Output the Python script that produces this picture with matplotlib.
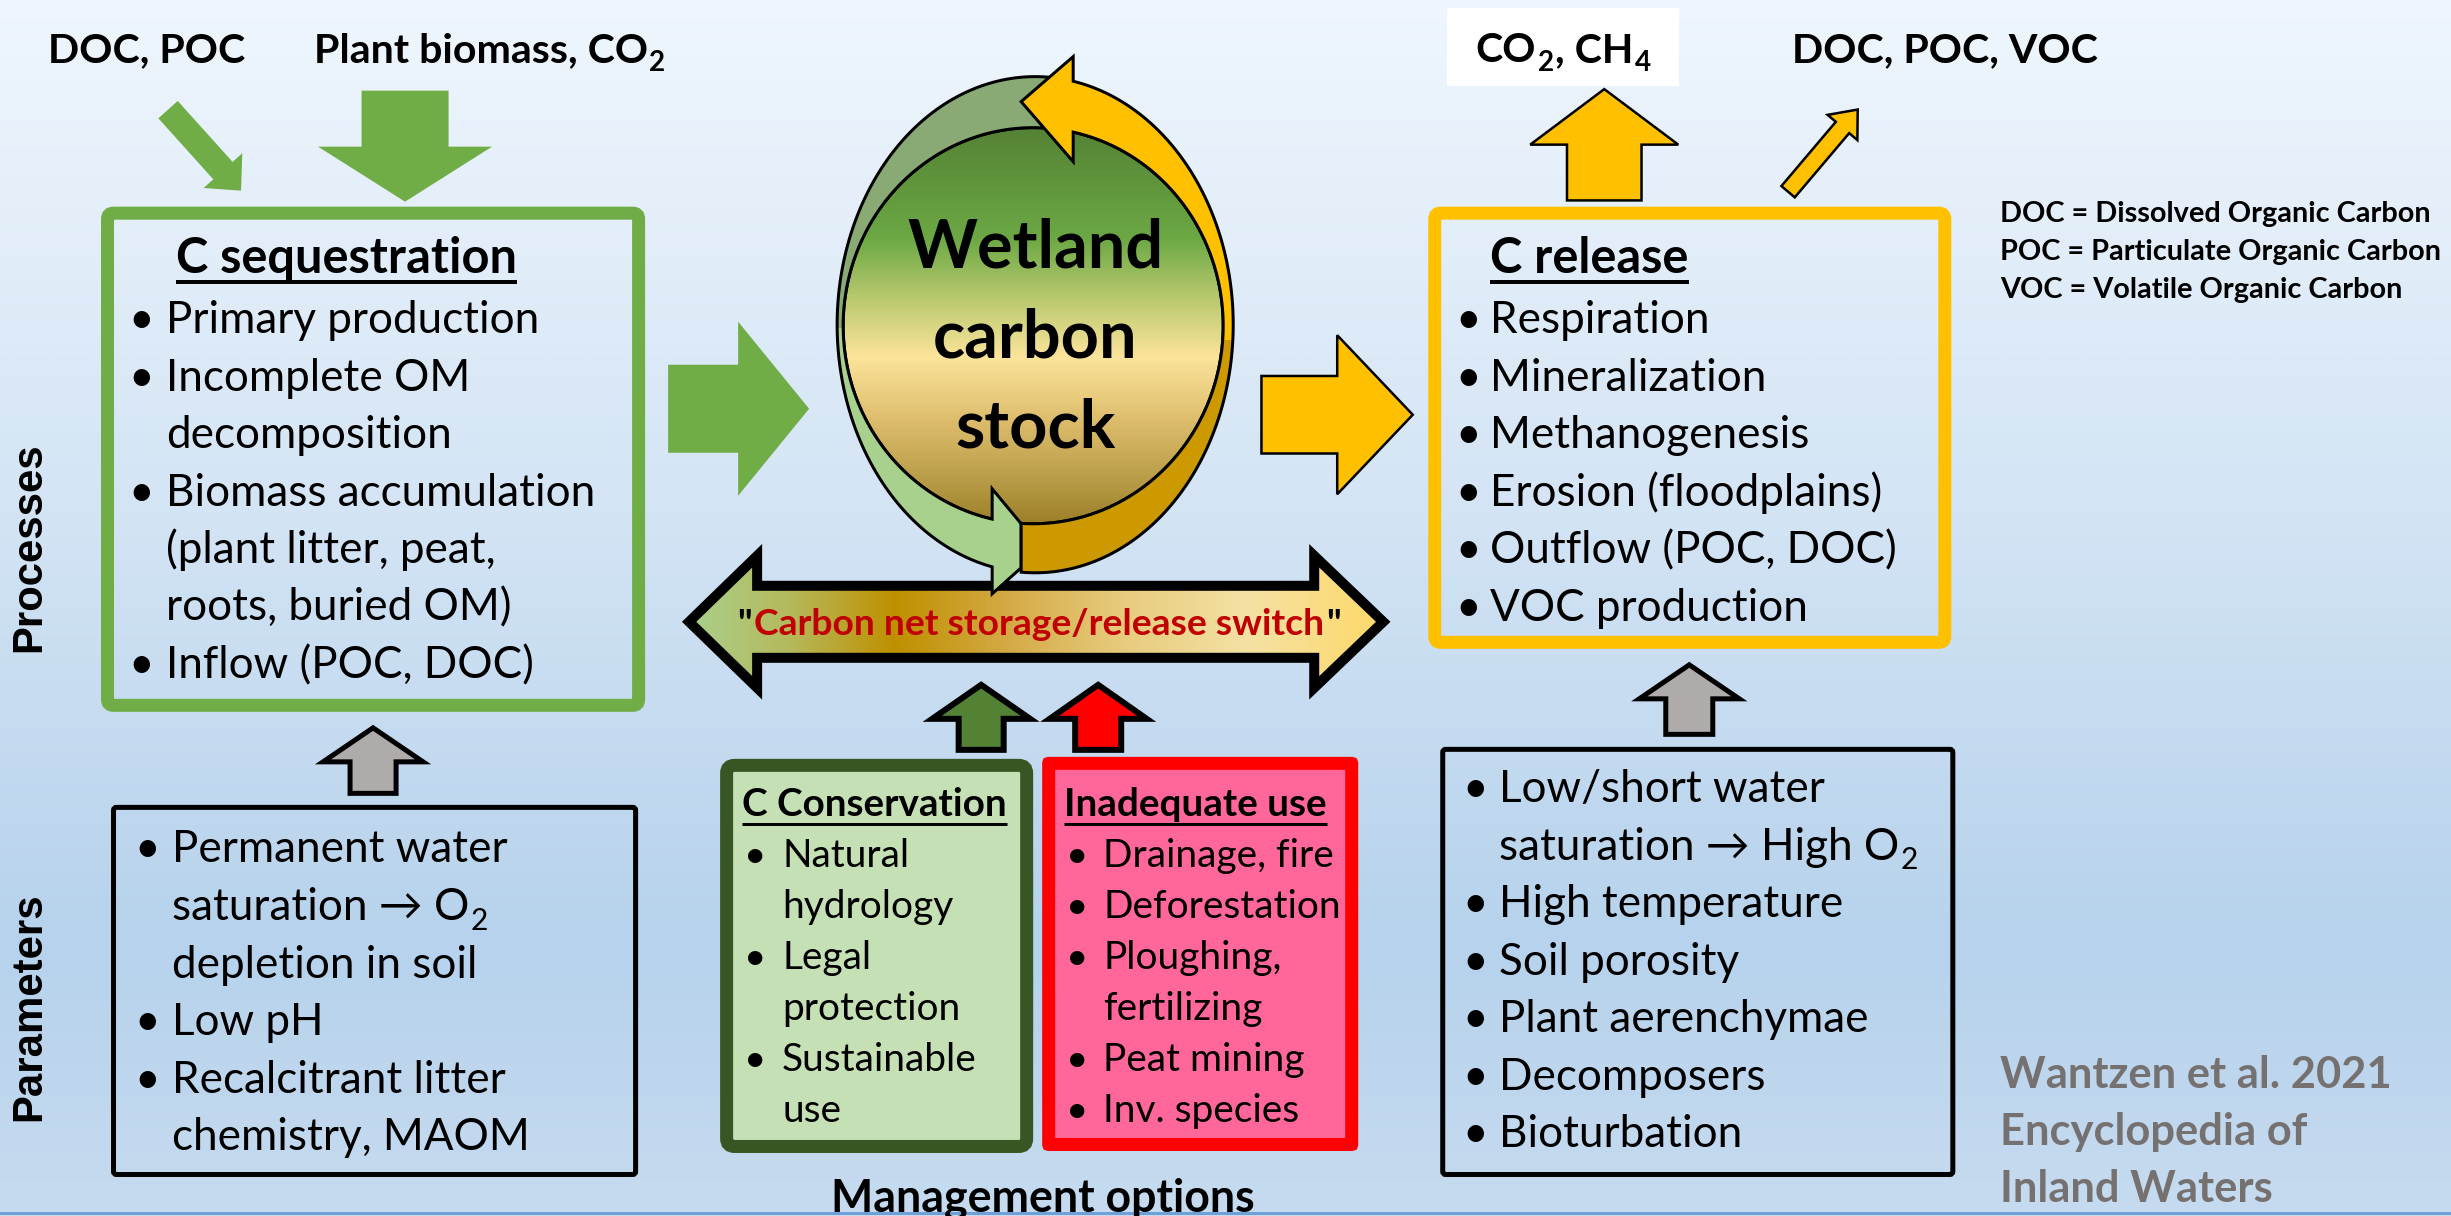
import re
import numpy as np
import matplotlib
matplotlib.use("Agg")
import matplotlib.pyplot as plt
from matplotlib.patches import Polygon, Ellipse, FancyBboxPatch, Rectangle
from matplotlib.colors import LinearSegmentedColormap

# esquema_carbono.py
# Esquema: secuestro y liberación de carbono en humedales

plt.rcParams['font.family'] = ['Lato', 'DejaVu Sans']

# --- textos (los subíndices se marcan con _N) ---
etiquetas_entrada = ['DOC, POC', 'Plant biomass, CO_2']
etiquetas_salida = ['CO_2, CH_4', 'DOC, POC, VOC']

titulo_secuestro = 'C sequestration'
items_secuestro = ['Primary production', 'Incomplete OM', 'decomposition',
                   'Biomass accumulation', '(plant litter, peat,', 'roots, buried OM)',
                   'Inflow (POC, DOC)']
vinetas_secuestro = [1, 1, 0, 1, 0, 0, 1]

titulo_liberacion = 'C release'
items_liberacion = ['Respiration', 'Mineralization', 'Methanogenesis',
                    'Erosion (floodplains)', 'Outflow (POC, DOC)', 'VOC production']
vinetas_liberacion = [1, 1, 1, 1, 1, 1]

lineas_stock = ['Wetland', 'carbon', 'stock']
etiqueta_switch = 'Carbon net storage/release switch'

titulo_conservacion = 'C Conservation'
items_conservacion = ['Natural', 'hydrology', 'Legal', 'protection', 'Sustainable', 'use']
vinetas_conservacion = [1, 0, 1, 0, 1, 0]

titulo_inadecuado = 'Inadequate use'
items_inadecuado = ['Drainage, fire', 'Deforestation', 'Ploughing,', 'fertilizing',
                    'Peat mining', 'Inv. species']
vinetas_inadecuado = [1, 1, 1, 0, 1, 1]

params_secuestro = ['Permanent water', 'saturation \u2192 O_2', 'depletion in soil',
                    'Low pH', 'Recalcitrant litter', 'chemistry, MAOM']
vinetas_params_secuestro = [1, 0, 0, 1, 1, 0]

params_liberacion = ['Low/short water', 'saturation \u2192 High O_2', 'High temperature',
                     'Soil porosity', 'Plant aerenchymae', 'Decomposers', 'Bioturbation']
vinetas_params_liberacion = [1, 0, 1, 1, 1, 1, 1]

leyenda = ['DOC = Dissolved Organic Carbon', 'POC = Particulate Organic Carbon',
           'VOC = Volatile Organic Carbon']
cita = ['Wantzen et al. 2021', 'Encyclopedia of', 'Inland Waters']
etiquetas_filas = ['Processes', 'Parameters']
etiqueta_gestion = 'Management options'

W, H = 2451, 1216
PT = 0.72  # puntos por pixel a 100 dpi

VERDE = '#70AD47'
NARANJA = '#FFC000'
GRIS = '#AFABAB'

fig = plt.figure(figsize=((W + 0.4) / 100, (H + 0.4) / 100), dpi=100)
ax = fig.add_axes([0, 0, 1, 1])
ax.set_xlim(0, W)
ax.set_ylim(H, 0)
ax.axis('off')
renderer = fig.canvas.get_renderer()


def _ancho(s, size, **kw):
    t = ax.text(0, 0, s, fontsize=size, **kw)
    w = t.get_window_extent(renderer).width
    t.remove()
    return w


def _ajustar(s, ancho_px, **kw):
    return 20 * ancho_px / _ancho(s, 20, **kw)


def _gradiente(extent, paradas, clip=None, horizontal=False, z=1):
    g = np.linspace(0, 1, 256)
    img = g.reshape(1, -1) if horizontal else g.reshape(-1, 1)
    cmap = LinearSegmentedColormap.from_list('g', paradas)
    im = ax.imshow(img, cmap=cmap, extent=extent, aspect='auto',
                   interpolation='bilinear', zorder=z)
    if clip is not None:
        im.set_clip_path(clip)
    return im


def _tramos(s, color='black'):
    partes = re.split(r'_(\d)', s)
    return [(p, i % 2 == 1, color) for i, p in enumerate(partes) if p]


def texto(x, y, tramos, size, ha='left', weight='normal', hueco=0.03, z=6, **kw):
    if isinstance(tramos, str):
        tramos = _tramos(tramos, kw.pop('color', 'black'))
    tams = [size * 0.68 if sub else size for _, sub, _ in tramos]
    anchos = [_ancho(s, t, weight=weight, **kw) for (s, _, _), t in zip(tramos, tams)]
    sep = hueco * size / PT
    total = sum(anchos) + sep * (len(tramos) - 1)
    x0 = x - total / 2 if ha == 'center' else x
    inicio = x0
    for (s, sub, c), t, w in zip(tramos, tams, anchos):
        dy = 0.22 * size / PT if sub else 0
        ax.text(x0, y + dy, s, fontsize=t, color=c, weight=weight,
                ha='left', va='baseline', zorder=z, **kw)
        x0 += w + sep
    return inicio, total


def subrayar(x0, ancho, y, grosor=4):
    ax.plot([x0, x0 + ancho], [y, y], color='black', lw=grosor * PT,
            solid_capstyle='butt', zorder=6)


def lista(items, vinetas, x_v, x_t, y0, dy, size):
    for i, (s, v) in enumerate(zip(items, vinetas)):
        y = y0 + i * dy
        if v:
            ax.text(x_v, y, '\u2022', fontsize=size, ha='left', va='baseline', zorder=6)
        texto(x_t, y, s, size)


def caja(x0, y0, x1, y1, ec, lw_px, fc='none', r=6, z=2):
    h = lw_px / 2
    p = FancyBboxPatch((x0 + h, y0 + h), x1 - x0 - lw_px, y1 - y0 - lw_px,
                       boxstyle=f'round,pad=0,rounding_size={r}',
                       fc=fc, ec=ec, lw=lw_px * PT, zorder=z)
    ax.add_patch(p)


def flecha(cola, punta, ancho_cuerpo, ancho_cabeza, largo_cabeza, fc, ec='none', lw_px=0, z=3):
    cola = np.array(cola, float)
    punta = np.array(punta, float)
    u = (punta - cola) / np.hypot(*(punta - cola))
    n = np.array([-u[1], u[0]])
    # el trazo se centra en el borde: se recorta para mantener la medida exterior
    punta = punta - u * lw_px
    cola = cola + u * lw_px / 2
    ancho_cuerpo -= lw_px
    ancho_cabeza -= 2 * lw_px
    base = punta - u * (largo_cabeza - lw_px)
    pts = [cola + n * ancho_cuerpo / 2, base + n * ancho_cuerpo / 2, base + n * ancho_cabeza / 2,
           punta, base - n * ancho_cabeza / 2, base - n * ancho_cuerpo / 2, cola - n * ancho_cuerpo / 2]
    ax.add_patch(Polygon(pts, closed=True, fc=fc, ec=ec, lw=lw_px * PT,
                         joinstyle='miter', zorder=z))


# --- fondo ---
_gradiente((0, W, H, 0), [(0, '#EFF6FD'), (0.4, '#D5E5F5'), (0.78, '#B6D2EC'), (1, '#C6DBEF')], z=0)
ax.plot([0, W], [1213, 1213], color='#6FA0D8', lw=3 * PT, zorder=1)

# --- tamaños de letra ajustados al ancho del original ---
t_cuerpo = _ajustar('Primary production', 374)
t_titulo = _ajustar('C sequestration', 342, weight='bold')
t_chico = _ajustar('Sustainable', 195)
t_titulo_chico = _ajustar('C Conservation', 265, weight='bold')
t_sup = (_ajustar('DOC, POC', 192, weight='bold')
         + _ajustar('DOC, POC, VOC', 300, weight='bold')
         + _ajustar('Plant biomass, CO', 350, weight='bold')) / 3
t_leyenda = _ajustar('POC = Particulate Organic Carbon', 439, weight='bold')
t_cita = _ajustar('Wantzen et al. 2021', 391, weight='bold')
t_stock = _ajustar('Wetland', 256, weight='bold')
t_switch = _ajustar('"' + etiqueta_switch + '"', 600, weight='bold')
t_gestion = _ajustar(etiqueta_gestion, 423, weight='bold')
t_filas = _ajustar('Parameters', 228, family='Liberation Sans', weight='bold')

# --- entradas y salidas superiores ---
texto(48, 62, etiquetas_entrada[0], t_sup, weight='bold')
texto(314, 62, etiquetas_entrada[1], t_sup, weight='bold')
ax.add_patch(Rectangle((1447, 8), 232, 78, fc='white', ec='none', zorder=2))
texto(1563, 62, etiquetas_salida[0], t_sup, ha='center', weight='bold')
texto(1792, 62, etiquetas_salida[1], t_sup, weight='bold')
for i, s in enumerate(leyenda):
    texto(2000, 222 + i * 38, s, t_leyenda, weight='bold')

flecha((168, 110), (241, 191), 26, 52, 27, VERDE)
flecha((405, 91), (405, 202), 87, 174, 55, VERDE)
flecha((1604, 202), (1604, 87), 77, 153, 58, NARANJA, 'black', 2.5)
flecha((1787, 193), (1859, 108), 20, 44, 26, NARANJA, 'black', 2.5)

# --- caja de secuestro ---
caja(101, 207, 645, 712, VERDE, 13)
x0, w = texto(176, 273, titulo_secuestro, t_titulo, weight='bold')
subrayar(x0, w, 282)
lista(items_secuestro, vinetas_secuestro, 128, 166, 333, 57.5, t_cuerpo)

# --- caja de liberación ---
caja(1428, 207, 1951, 649, NARANJA, 13)
x0, w = texto(1490, 273, titulo_liberacion, t_titulo, weight='bold')
subrayar(x0, w, 282)
lista(items_liberacion, vinetas_liberacion, 1455, 1490, 333, 57.5, t_cuerpo)

flecha((668, 409), (809, 409), 88, 174, 71, VERDE)
flecha((1260, 415), (1415, 415), 80, 164, 78, NARANJA, 'black', 2.5)

# --- stock de carbono (elipse con flechas circulares) ---
OC, OA, OB = (1035, 325), 198, 248
IC, IA, IB = (1033, 326), 190, 198


def _arco(c, a, b, p1, p2, n=160):
    t = np.radians(np.linspace(p1, p2, n))
    return np.c_[c[0] + a * np.cos(t), c[1] - b * np.sin(t)]


def _phi(c, a, x, abajo):
    ang = np.degrees(np.arccos((x - c[0]) / a))
    return 360 - ang if abajo else ang


elipse = Ellipse(IC, 2 * IA, 2 * IB, fc='none', ec='none', zorder=3)
ax.add_patch(elipse)
_gradiente((IC[0] - IA, IC[0] + IA, IC[1] + IB, IC[1] - IB),
           [(0, '#548235'), (0.28, '#6CA844'), (0.42, '#B3C76C'), (0.58, '#FCE49B'),
            (0.74, '#DDBD6C'), (0.9, '#B69A45'), (1, '#9C7F27')], clip=elipse, z=3)
ax.add_patch(Ellipse(IC, 2 * IA, 2 * IB, fc='none', ec='black', lw=3 * PT, zorder=3))

# flecha verde (baja por la izquierda)
pts_a = np.vstack([_arco(OC, OA, OB, 86, _phi(OC, OA, 992, True)),
                   [(992, 594), (1021, 568), (1021, 524), (992, 489)],
                   _arco(IC, IA, IB, _phi(IC, IA, 992, True), 86)])
fl_a = Polygon(pts_a, closed=True, fc='#A9D18E', ec='none', zorder=4)
ax.add_patch(fl_a)
sombra_a = Rectangle((700, 0), 400, 328, fc='#8AAA75', ec='none', zorder=4)
ax.add_patch(sombra_a)
sombra_a.set_clip_path(fl_a)
ax.add_patch(Polygon(pts_a, closed=True, fc='none', ec='black', lw=3 * PT, zorder=4))

# flecha amarilla (sube por la derecha)
pts_b = np.vstack([_arco(OC, OA, OB, _phi(OC, OA, 1021, True), 360 + _phi(OC, OA, 1073, False)),
                   [(1073, 57), (1021, 102), (1073, 162)],
                   _arco(IC, IA, IB, 360 + _phi(IC, IA, 1073, False), _phi(IC, IA, 1021, True))])
fl_b = Polygon(pts_b, closed=True, fc=NARANJA, ec='none', zorder=4)
ax.add_patch(fl_b)
sombra_b = Rectangle((1000, 340), 300, 300, fc='#CC9900', ec='none', zorder=4)
ax.add_patch(sombra_b)
sombra_b.set_clip_path(fl_b)
ax.add_patch(Polygon(pts_b, closed=True, fc='none', ec='black', lw=3 * PT, zorder=4))

for i, s in enumerate(lineas_stock):
    texto(1035, 267 + i * 90, s, t_stock, ha='center', weight='bold')

# --- interruptor almacenamiento / liberación ---
yc = 622
pts_sw = [(689, yc), (757, yc - 66), (757, yc - 36), (1314, yc - 36), (1314, yc - 66),
          (1383, yc), (1314, yc + 66), (1314, yc + 36), (757, yc + 36), (757, yc + 66)]
sw = Polygon(pts_sw, closed=True, fc='none', ec='none', zorder=3)
ax.add_patch(sw)
_gradiente((682, 1390, 693, 551),
           [(0, '#A9D18E'), (0.15, '#B5B95C'), (0.3, '#BF9000'), (0.46, '#D4AA46'),
            (0.62, '#E7CB7D'), (0.8, '#F4E1A4'), (1, '#FFD966')],
           clip=sw, horizontal=True, z=3)
ax.add_patch(Polygon(pts_sw, closed=True, fc='none', ec='black', lw=10 * PT,
                     joinstyle='miter', zorder=3))
texto(1039, 635, [('"', False, 'black'), (etiqueta_switch, False, '#C00000'), ('"', False, 'black')],
      t_switch, ha='center', weight='bold', hueco=0.06)

# --- opciones de gestión ---
flecha((981, 753), (981, 679), 51, 110, 40, '#548235', 'black', 6)
flecha((1098, 753), (1098, 679), 52, 109, 40, '#FF0000', 'black', 6)

caja(720, 759, 1033, 1153, '#375623', 13, fc='#C5E0B4', r=8)
x0, w = texto(742, 816, titulo_conservacion, t_titulo_chico, weight='bold')
subrayar(x0, w, 824, 3)
lista(items_conservacion, vinetas_conservacion, 744, 782, 867, 51, t_chico)

caja(1042, 757, 1358, 1151, '#FF0000', 13, fc='#FF6699', r=0.1)
x0, w = texto(1064, 816, titulo_inadecuado, t_titulo_chico, weight='bold')
subrayar(x0, w, 824, 3)
lista(items_inadecuado, vinetas_inadecuado, 1066, 1103, 867, 51, t_chico)

texto(1043, 1211, etiqueta_gestion, t_gestion, ha='center', weight='bold')

# --- parámetros ---
flecha((373, 796), (373, 723), 51, 110, 39, GRIS, 'black', 5)
caja(111, 805, 638, 1177, 'black', 5, r=3)
lista(params_secuestro, vinetas_params_secuestro, 134, 172, 862, 57.6, t_cuerpo)

flecha((1689, 737), (1689, 660), 52, 110, 39, GRIS, 'black', 5)
caja(1440, 747, 1955, 1177, 'black', 5, r=3)
lista(params_liberacion, vinetas_params_liberacion, 1462, 1499, 802, 57.5, t_cuerpo)

# --- etiquetas laterales y cita ---
ax.text(29, 547, etiquetas_filas[0], rotation=90, ha='center', va='center', fontsize=t_filas,
        family='Liberation Sans', weight='bold', zorder=6)
ax.text(29, 1006, etiquetas_filas[1], rotation=90, ha='center', va='center', fontsize=t_filas,
        family='Liberation Sans', weight='bold', zorder=6)
for i, s in enumerate(cita):
    texto(2000, 1088 + i * 57, s, t_cita, weight='bold', color='#767171')

ax.set_xlim(0, W)
ax.set_ylim(H, 0)
fig.savefig('out.png', dpi=100)
